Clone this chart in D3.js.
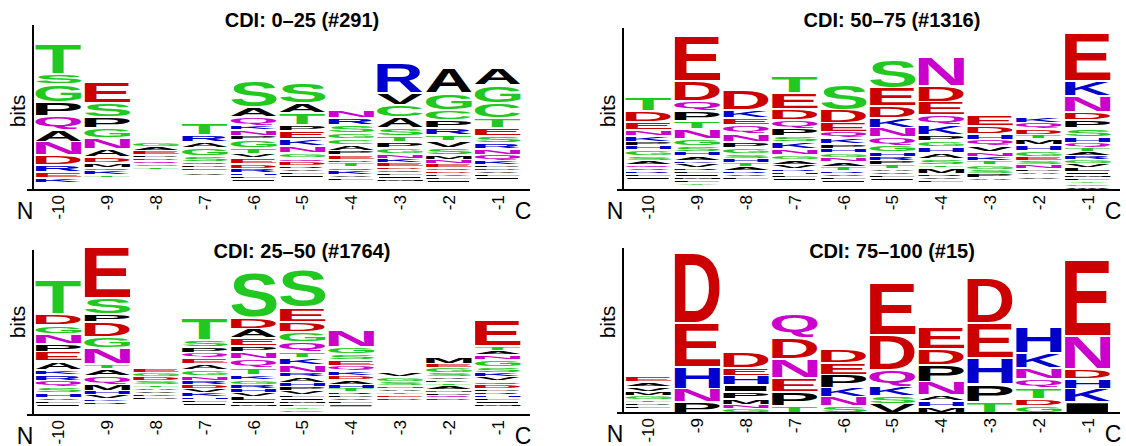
<!DOCTYPE html>
<html lang="en">
<head>
<meta charset="UTF-8">
<title>CDI sequence logos</title>
<script src="https://d3js.org/d3.v7.min.js"></script>
<style>
  body { margin: 0; background: #fff; }
  svg text { font-family: "Liberation Sans", Arial, sans-serif; }
</style>
</head>
<body>
<script>
// positions before the cleavage site
var positions = ["-10", "-9", "-8", "-7", "-6", "-5", "-4", "-3", "-2", "-1"];
var titles = ["CDI: 0\u201325 (#291)", "CDI: 50\u201375 (#1316)", "CDI: 25\u201350 (#1764)", "CDI: 75\u2013100 (#15)"];

// information content per position (bits)
var info0to25 = [3.85, 2.83, 1.26, 1.75, 2.88, 2.80, 2.09, 3.32, 3.19, 3.19];
var info50to75 = [2.43, 4.06, 2.62, 3.01, 2.75, 3.40, 3.48, 1.96, 1.91, 4.11];
var info25to50 = [3.53, 4.37, 1.23, 2.54, 3.72, 3.80, 2.23, 1.13, 1.52, 2.49];
var info75to100 = [0.97, 4.19, 1.60, 2.57, 1.65, 3.40, 2.25, 3.53, 2.25, 4.01];

// relative letter weights per position, listed top of stack first
var freq0to25 = [
  "T31 S10 G18 P14 Q14 A12 N13 D10 R7 E6 K5 H2 Y2 M2 V1",
  "E21 S14 P11 G10 N11 A8 D6 M5 Q3 K4 T3 R2 I2 L2 V2 H2 F1 C1",
  "G5 A4 E4 P3 D3 Q3 S3 T3 V2 N2 K2 R2 L2 I2 M2 H2 C2 F1 Y1",
  "T12 R7 A6 G8 S6 Q3 P3 E3 D2 V3 K2 N2 L2 I2 M1 F1 Y1 H1 W1 C1",
  "S27 A10 Q8 K5 N6 P4 G8 T6 V4 E6 D5 R4 H3 L3 I3 M2 F2 Y2 C2",
  "S20 A10 T12 P6 E8 K7 N7 G5 Q4 D4 R3 V3 L3 I3 M2 F2 H2 Y2 C2 W2",
  "N8 R7 S8 G6 C6 A6 P4 E5 D3 T4 Q4 K4 V3 L3 I2 M2 F1 H2 Y2",
  "R30 V12 C12 A11 S8 T6 P6 G6 N5 K4 E4 D3 Q3 L3 I3 M3 F2 H2 Y2 W2",
  "A25 G17 C10 P8 R7 T6 V7 S7 M5 N4 E4 Q3 D3 K3 L3 I3 F2 H2 Y2 W1",
  "A17 G18 C15 T10 E8 S7 R6 N6 Q6 K4 P3 D3 V3 L3 I3 M2 F2 H2 Y2 W2"
];
var freq50to75 = [
  "T14 D11 E8 N6 K6 P4 H4 G6 S5 A4 Q3 V3 R3 L3 I3 M2 F2 Y2 C2 W2",
  "E46 D20 Q10 P10 T8 N10 G7 S6 H4 A5 K3 V4 R3 L3 I3 M3 F3 Y3 C2 W2",
  "D20 K8 E7 Q9 N8 P6 G6 S5 H4 T4 A4 R3 V3 L3 I2 M2 F2 Y2 C1 W1",
  "T18 E16 D11 Q8 P8 S6 K7 N6 G5 A5 V4 R3 H3 L3 I3 M2 F2 Y2 C2 W1",
  "S25 D13 E9 Q6 K6 P5 H4 G5 N4 A5 T4 R3 V3 L3 I3 M2 F2 Y1 C1 W1",
  "S28 E18 D12 K10 N9 Q8 G7 H5 R4 P4 T4 A3 V3 L3 I3 M2 F2 Y2 C2 W1",
  "N29 D16 E13 Q10 K10 P6 G6 H6 A6 S6 T3 M6 R3 V3 L3 I2 F2 Y1 C1 W1",
  "E11 D8 H6 Q6 V6 N5 K4 T4 G5 S4 P4 A3 R2 L2 I1 M1 F1 Y1 C1",
  "K6 Q6 D6 T4 M6 H6 G6 E4 S4 N4 P3 A3 R2 V3 L2 I2 F2 Y2 C1 W1",
  "E48 K15 N16 D8 P8 S9 H6 Q5 T4 A4 R4 G4 V4 L4 I3 M3 F3 Y3 C3 W3"
];
var freq25to50 = [
  "T34 D11 G9 N10 P8 E9 A9 K5 R6 Q6 S6 H5 V3 L3 I3 M2 F2 Y2 C1 W1",
  "E50 S16 P8 D15 G11 N16 T5 A7 Q8 M7 H4 V4 K3 R3 L2 I2 F2 Y2 C1 W1",
  "E5 G4 D4 S4 T3 A3 V3 K3 P3 N2 Q2 R2 L2 I2 M1 F1 H1 Y1 C1",
  "T22 S7 P6 Q5 E6 A6 G6 N5 R4 D4 V4 K4 H3 L3 I3 M2 F2 Y2 C2 W1",
  "S45 D11 A9 E8 P6 N7 Q9 T7 K5 G5 R4 H4 V4 L4 I3 M3 F2 Y2 C2 W2",
  "S38 E14 D10 G10 Q10 T6 K7 N8 R4 A6 H4 P4 V4 L3 I3 M3 F3 Y3 C3 W2",
  "N18 G7 S6 E6 Q5 K5 D4 A5 H4 T4 R3 P3 V3 L3 I3 M2 F2 Y2 C1 W1",
  "V5 G5 S4 N3 A3 T3 E3 D3 K2 Q2 P2 R2 L1 I1 M1 F1 H1 Y1",
  "M7 E4 G6 S4 V3 K3 T3 A4 N3 P3 Q3 D3 R2 H2 L2 I2 F2 Y2 C1 W1",
  "E26 T5 A4 N5 G7 S6 K4 V4 Q4 D4 P3 R3 H3 L3 I3 M3 F2 Y2 C2 W2"
];
var freq75to100 = [
  "E6 A5 V5 M4 G4 T3 P3 L3 N2 K2",
  "D70 E44 H22 N13 P11",
  "D16 E8 H9 I7 P7 M6 N4 G4",
  "Q23 D21 N19 E14 P14 T7",
  "D13 E12 P13 K9 N9 S7",
  "E52 D35 Q17 K9 S8 V9",
  "E22 D16 P17 N13 A6 H6 M6",
  "D45 E35 H26 P18 T11",
  "H26 K15 N11 Q9 T11 D7 G7",
  "E76 N33 D10 H10 K13 I11"
];

// chemistry colour scheme
function aaColor(a) {
  if ("GSTYC".indexOf(a) >= 0) return "#20c820";
  if ("NQ".indexOf(a) >= 0) return "#cc00cc";
  if ("KRH".indexOf(a) >= 0) return "#0000cc";
  if ("DE".indexOf(a) >= 0) return "#cc0000";
  return "#000000";
}

var panels = [
  {title: titles[0], info: info0to25, freq: freq0to25, x: 33, base: 190, top: 25, bitsY: 111, titleY: 27},
  {title: titles[1], info: info50to75, freq: freq50to75, x: 623, base: 190, top: 28, bitsY: 111, titleY: 27},
  {title: titles[2], info: info25to50, freq: freq25to50, x: 33, base: 415, top: 250, bitsY: 322, titleY: 258},
  {title: titles[3], info: info75to100, freq: freq75to100, x: 623, base: 413, top: 248, bitsY: 322, titleY: 258}
];

var svg = d3.select("body").append("svg")
  .attr("width", 1126)
  .attr("height", 446);

// glyph ink boxes so every letter fills its cell
var ctx = document.createElement("canvas").getContext("2d");
ctx.font = "bold 100px 'Liberation Sans', Arial, sans-serif";
var inkCache = {};
function ink(ch) {
  if (!inkCache[ch]) {
    var m = ctx.measureText(ch);
    inkCache[ch] = {l: m.actualBoundingBoxLeft, r: m.actualBoundingBoxRight,
                    a: m.actualBoundingBoxAscent, d: m.actualBoundingBoxDescent};
  }
  return inkCache[ch];
}

function parseColumn(s) {
  return s.split(" ").map(function(t) { return {aa: t[0], w: +t.slice(1)}; });
}

var gap = 2; // white space between stacked letters

panels.forEach(function(p) {
  var g = svg.append("g");
  var x = d3.scaleBand().domain(positions)
    .range([p.x + 1, p.x + 489]).paddingInner(0.06).paddingOuter(0.03);
  var y = d3.scaleLinear().domain([0, 4.32]).range([p.base, p.base - 165]);

  // stacks
  positions.forEach(function(pos, i) {
    var col = parseColumn(p.freq[i]);
    var sum = d3.sum(col, function(d) { return d.w; });
    var cur = p.info[i];
    col.forEach(function(d) {
      var bits = d.w / sum * p.info[i];
      var y0 = y(cur), y1 = y(cur - bits);
      cur -= bits;
      var h = y1 - y0 - gap;
      if (h < 0.3) return;
      var m = ink(d.aa);
      var sx = x.bandwidth() / (m.l + m.r), sy = h / (m.a + m.d);
      g.append("text")
        .text(d.aa)
        .attr("font-size", 100)
        .attr("font-weight", "bold")
        .attr("fill", aaColor(d.aa))
        .attr("transform", "translate(" + x(pos) + "," + (y0 + gap / 2) + ") scale(" + sx + "," + sy + ") translate(" + m.l + "," + m.a + ")");
    });
  });

  // axes
  g.append("line").attr("x1", p.x).attr("x2", p.x).attr("y1", p.top).attr("y2", p.base)
    .attr("stroke", "#000").attr("stroke-width", 2);
  g.append("line").attr("x1", p.x - 6).attr("x2", p.x + 497).attr("y1", p.base).attr("y2", p.base)
    .attr("stroke", "#000").attr("stroke-width", 2);

  var ax = g.append("g").attr("transform", "translate(0," + p.base + ")")
    .call(d3.axisBottom(x).tickSize(0));
  ax.select(".domain").remove();
  ax.selectAll("text")
    .attr("font-family", "'Liberation Sans', Arial, sans-serif")
    .attr("font-size", 17)
    .attr("fill", "#000")
    .attr("text-anchor", "end")
    .attr("transform", "rotate(-90)")
    .attr("x", -5).attr("y", 0).attr("dy", "0.35em");

  g.append("text").text("N").attr("x", p.x - 8).attr("y", p.base + 28.5)
    .attr("text-anchor", "middle").attr("font-size", 23);
  g.append("text").text("C").attr("x", p.x + 490).attr("y", p.base + 28.5)
    .attr("text-anchor", "middle").attr("font-size", 23);

  g.append("text").text("bits")
    .attr("transform", "translate(" + (p.x - 8) + "," + p.bitsY + ") rotate(-90)")
    .attr("text-anchor", "middle").attr("font-size", 21);

  g.append("text").text(p.title)
    .attr("x", p.x + 269).attr("y", p.titleY)
    .attr("text-anchor", "middle").attr("font-size", 20).attr("font-weight", "bold");
});
</script>
</body>
</html>
